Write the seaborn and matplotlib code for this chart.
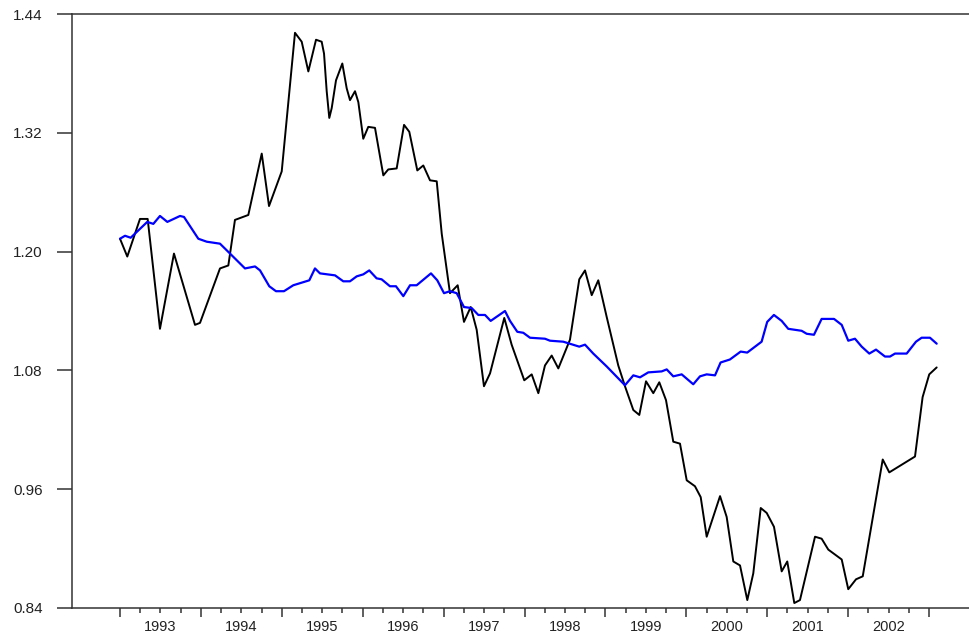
import numpy as np
import pandas as pd
import matplotlib
matplotlib.use("Agg")
import matplotlib.pyplot as plt
import seaborn as sns
from matplotlib.ticker import FixedLocator, FixedFormatter, NullFormatter

# ---- data (decimal years, values) ----
black_t = [1993.000, 1993.090, 1993.247, 1993.342, 1993.494, 1993.667, 1993.927, 1993.989,
           1994.236, 1994.339, 1994.421, 1994.586, 1994.752, 1994.842, 1994.999, 1995.163,
           1995.246, 1995.328, 1995.423, 1995.493, 1995.522, 1995.555, 1995.587, 1995.617,
           1995.670, 1995.748, 1995.802, 1995.843, 1995.905, 1995.946, 1996.007, 1996.069,
           1996.152, 1996.214, 1996.255, 1996.316, 1996.420, 1996.511, 1996.576, 1996.675,
           1996.749, 1996.832, 1996.915, 1996.977, 1997.079, 1997.174, 1997.252, 1997.335,
           1997.409, 1997.499, 1997.574, 1997.750, 1997.841, 1997.997, 1998.089, 1998.171,
           1998.253, 1998.336, 1998.418, 1998.562, 1998.677, 1998.748, 1998.831, 1998.912,
           1999.016, 1999.159, 1999.242, 1999.345, 1999.419, 1999.502, 1999.592, 1999.666,
           1999.749, 1999.839, 1999.922, 2000.005, 2000.107, 2000.178, 2000.252, 2000.417,
           2000.499, 2000.581, 2000.664, 2000.754, 2000.828, 2000.920, 2000.994, 2001.084,
           2001.179, 2001.248, 2001.335, 2001.405, 2001.591, 2001.673, 2001.755, 2001.921,
           2002.002, 2002.098, 2002.181, 2002.428, 2002.509, 2002.827, 2002.921, 2003.003,
           2003.095]
black_v = [1.213, 1.195, 1.233, 1.233, 1.122, 1.198, 1.126, 1.128,
           1.183, 1.186, 1.232, 1.237, 1.299, 1.246, 1.281, 1.421,
           1.412, 1.382, 1.414, 1.412, 1.400, 1.362, 1.335, 1.345,
           1.373, 1.390, 1.365, 1.353, 1.362, 1.351, 1.314, 1.326,
           1.325, 1.296, 1.277, 1.283, 1.284, 1.328, 1.321, 1.282,
           1.287, 1.272, 1.271, 1.218, 1.158, 1.166, 1.129, 1.144,
           1.121, 1.064, 1.077, 1.133, 1.106, 1.070, 1.076, 1.057,
           1.085, 1.095, 1.082, 1.111, 1.172, 1.181, 1.156, 1.171,
           1.134, 1.085, 1.064, 1.040, 1.035, 1.069, 1.057, 1.068,
           1.050, 1.008, 1.006, 0.969, 0.963, 0.952, 0.912, 0.953,
           0.932, 0.887, 0.883, 0.848, 0.875, 0.941, 0.936, 0.922,
           0.877, 0.887, 0.845, 0.848, 0.912, 0.910, 0.899, 0.889,
           0.859, 0.869, 0.872, 0.990, 0.977, 0.993, 1.053, 1.076,
           1.083]

blue_t = [1993.000, 1993.062, 1993.132, 1993.337, 1993.412, 1993.494, 1993.585, 1993.742,
          1993.791, 1993.968, 1994.072, 1994.236, 1994.360, 1994.545, 1994.669, 1994.731,
          1994.845, 1994.928, 1995.027, 1995.142, 1995.340, 1995.410, 1995.472, 1995.658,
          1995.760, 1995.843, 1995.926, 1996.007, 1996.081, 1996.172, 1996.234, 1996.337,
          1996.411, 1996.502, 1996.585, 1996.667, 1996.844, 1996.922, 1997.005, 1997.079,
          1997.162, 1997.252, 1997.347, 1997.429, 1997.512, 1997.582, 1997.759, 1997.821,
          1997.911, 1997.985, 1998.068, 1998.253, 1998.315, 1998.479, 1998.677, 1998.748,
          1998.850, 1999.016, 1999.242, 1999.345, 1999.428, 1999.530, 1999.696, 1999.758,
          1999.839, 1999.943, 2000.086, 2000.169, 2000.252, 2000.355, 2000.424, 2000.539,
          2000.672, 2000.753, 2000.931, 2001.000, 2001.083, 2001.179, 2001.260, 2001.426,
          2001.488, 2001.578, 2001.673, 2001.826, 2001.921, 2002.002, 2002.085, 2002.168,
          2002.262, 2002.345, 2002.456, 2002.518, 2002.580, 2002.724, 2002.839, 2002.909,
          2003.012, 2003.095]
blue_v = [1.213, 1.216, 1.214, 1.230, 1.228, 1.236, 1.230, 1.236,
          1.235, 1.213, 1.210, 1.208, 1.198, 1.183, 1.185, 1.181,
          1.165, 1.160, 1.160, 1.166, 1.171, 1.183, 1.178, 1.176,
          1.170, 1.170, 1.175, 1.177, 1.181, 1.173, 1.172, 1.165,
          1.165, 1.155, 1.166, 1.166, 1.178, 1.171, 1.158, 1.160,
          1.158, 1.144, 1.143, 1.136, 1.136, 1.130, 1.140, 1.130,
          1.119, 1.118, 1.113, 1.112, 1.110, 1.109, 1.104, 1.106,
          1.097, 1.084, 1.065, 1.075, 1.073, 1.078, 1.079, 1.081,
          1.074, 1.076, 1.066, 1.074, 1.076, 1.075, 1.088, 1.091,
          1.099, 1.098, 1.109, 1.129, 1.136, 1.130, 1.122, 1.120,
          1.117, 1.116, 1.132, 1.132, 1.126, 1.110, 1.112, 1.104,
          1.097, 1.101, 1.094, 1.094, 1.097, 1.097, 1.109, 1.113,
          1.113, 1.107]

years = list(range(1993, 2004))
year_labels = [str(y) for y in range(1993, 2003)]
y_ticks = [0.84, 0.96, 1.08, 1.20, 1.32, 1.44]
y_labels = ["0.84", "0.96", "1.08", "1.20", "1.32", "1.44"]

black_df = pd.DataFrame({"t": black_t, "v": black_v})
blue_df = pd.DataFrame({"t": blue_t, "v": blue_v})

sns.set_style("white")
plt.rcParams["font.family"] = ["Liberation Sans", "DejaVu Sans"]

fig = plt.figure(figsize=(9.7, 6.37), dpi=100)
ax = fig.add_axes([72 / 970, 1 - 608 / 637, 1 - 72 / 970, (608 - 14) / 637])

sns.lineplot(data=black_df, x="t", y="v", ax=ax, color="black", linewidth=1.4,
             sort=False, estimator=None)
sns.lineplot(data=blue_df, x="t", y="v", ax=ax, color="#0000ff", linewidth=1.6,
             sort=False, estimator=None)

ax.set_xlim(1993 + (72 - 120) / 80.9, 1993 + (970 - 120) / 80.9)
ax.set_ylim(0.84, 1.44)
ax.set_xlabel("")
ax.set_ylabel("")

spine_col = "#333333"
for side in ["left", "top", "bottom"]:
    ax.spines[side].set_visible(True)
    ax.spines[side].set_color(spine_col)
    ax.spines[side].set_linewidth(1.1)
ax.spines["right"].set_visible(False)

ax.yaxis.set_major_locator(FixedLocator(y_ticks))
ax.yaxis.set_major_formatter(FixedFormatter(y_labels))
ax.tick_params(axis="y", which="major", left=True, direction="out", length=11,
               width=1.1, color=spine_col, pad=10, labelsize=11, labelcolor="#222222")

ax.xaxis.set_major_locator(FixedLocator(years))
ax.xaxis.set_major_formatter(NullFormatter())
minor_pos = []
minor_lab = []
for y in range(1993, 2003):
    for q, lab in [(0.25, ""), (0.5, str(y)), (0.75, "")]:
        minor_pos.append(y + q)
        minor_lab.append(lab)
ax.xaxis.set_minor_locator(FixedLocator(minor_pos))
ax.xaxis.set_minor_formatter(FixedFormatter(minor_lab))
ax.tick_params(axis="x", which="major", bottom=True, direction="out", length=6.5,
               width=1.1, color=spine_col)
ax.tick_params(axis="x", which="minor", bottom=True, direction="out", length=3.5,
               width=1.1, color=spine_col, pad=5, labelsize=10.5, labelcolor="#222222")
ax.grid(False)

fig.savefig("out.png", dpi=100)
